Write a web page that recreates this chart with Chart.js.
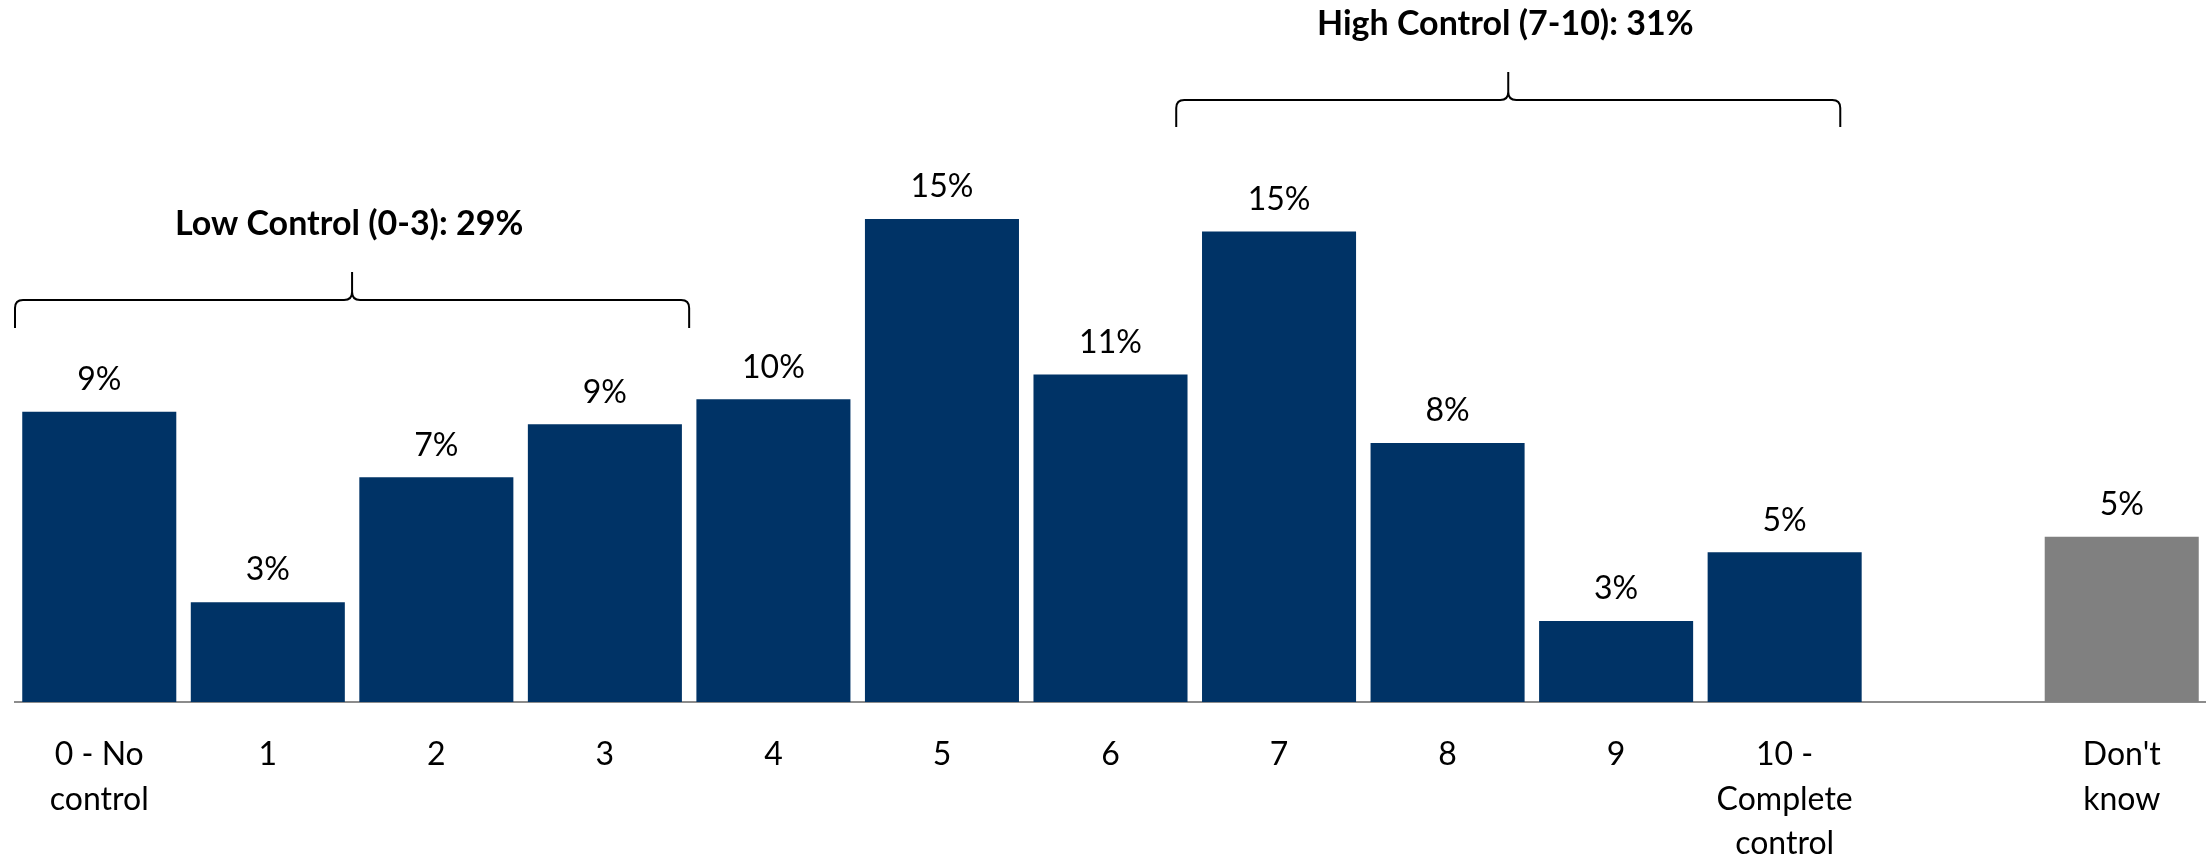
<!DOCTYPE html>
<html lang="en">
<head>
    <meta charset="UTF-8">
    <title>Control rating distribution</title>
    <script src="https://cdn.jsdelivr.net/npm/chart.js"></script>
    <style>
        body {
            margin: 0;
            background-color: #ffffff;
        }
        #chartBox {
            width: 2206px;
            height: 857px;
        }
    </style>
</head>
<body>
    <div id="chartBox">
        <canvas id="controlChart" width="2206" height="857"></canvas>
    </div>

    <script>
        // Data
        var categories = [
            ['0 - No', 'control'], '1', '2', '3', '4', '5', '6', '7', '8', '9',
            ['10 -', 'Complete', 'control'], '', ['Don\'t', 'know']
        ];
        var shares = [9.3, 3.2, 7.2, 8.9, 9.7, 15.48, 10.5, 15.08, 8.3, 2.6, 4.8, null, 5.3];
        var groupLabels = ['Low Control (0-3): 29%', 'High Control (7-10): 31%'];

        var navy = '#003366';
        var grey = '#808080';
        var barColors = shares.map(function (v, i) {
            return i === shares.length - 1 ? grey : navy;
        });

        var fontFamily = 'Lato, "Open Sans", sans-serif';

        // Percent labels above each bar
        var valueLabels = {
            id: 'valueLabels',
            afterDatasetsDraw: function (chart) {
                var ctx = chart.ctx;
                var meta = chart.getDatasetMeta(0);
                ctx.save();
                ctx.font = '32px ' + fontFamily;
                ctx.fillStyle = '#000000';
                ctx.textAlign = 'center';
                ctx.textBaseline = 'middle';
                meta.data.forEach(function (bar, i) {
                    if (shares[i] === null) return;
                    ctx.fillText(Math.round(shares[i]) + '%', bar.x, bar.y - 32);
                });
                ctx.restore();
            }
        };

        // Curly braces with the group totals
        var groupBraces = {
            id: 'groupBraces',
            afterDraw: function (chart, args, opts) {
                var ctx = chart.ctx;
                var xs = chart.scales.x;
                ctx.save();
                ctx.strokeStyle = '#000000';
                ctx.lineWidth = 2;
                opts.braces.forEach(function (b, i) {
                    var x0 = xs.getPixelForValue(b.from);
                    var x1 = xs.getPixelForValue(b.to);
                    var xm = xs.getPixelForValue(b.tip);
                    var r = 8;
                    ctx.beginPath();
                    ctx.moveTo(x0, b.endY);
                    ctx.lineTo(x0, b.lineY + r);
                    ctx.quadraticCurveTo(x0, b.lineY, x0 + r, b.lineY);
                    ctx.lineTo(xm - r, b.lineY);
                    ctx.quadraticCurveTo(xm, b.lineY, xm, b.lineY - r);
                    ctx.lineTo(xm, b.tipY);
                    ctx.moveTo(xm, b.lineY - r);
                    ctx.quadraticCurveTo(xm, b.lineY, xm + r, b.lineY);
                    ctx.lineTo(x1 - r, b.lineY);
                    ctx.quadraticCurveTo(x1, b.lineY, x1, b.lineY + r);
                    ctx.lineTo(x1, b.endY);
                    ctx.stroke();

                    ctx.font = 'bold 34px ' + fontFamily;
                    ctx.fillStyle = '#000000';
                    ctx.textAlign = 'center';
                    ctx.textBaseline = 'middle';
                    ctx.fillText(groupLabels[i], xm - 3, b.textY);
                });
                ctx.restore();
            }
        };

        var ctx = document.getElementById('controlChart').getContext('2d');
        var controlChart = new Chart(ctx, {
            type: 'bar',
            data: {
                labels: categories,
                datasets: [{
                    data: shares,
                    backgroundColor: barColors,
                    borderWidth: 0,
                    barPercentage: 0.914,
                    categoryPercentage: 1.0
                }]
            },
            options: {
                responsive: false,
                animation: false,
                devicePixelRatio: 1,
                layout: {
                    padding: { left: 15, right: 0, top: 0, bottom: 0 }
                },
                plugins: {
                    legend: { display: false },
                    tooltip: { enabled: false },
                    groupBraces: {
                        braces: [
                            { from: -0.5, to: 3.5, tip: 1.5, lineY: 300, endY: 328, tipY: 272, textY: 224 },
                            { from: 6.39, to: 10.33, tip: 8.36, lineY: 100, endY: 127, tipY: 72, textY: 24 }
                        ]
                    }
                },
                scales: {
                    x: {
                        grid: { display: false, drawTicks: false },
                        border: { display: true, color: '#8c8c8c', width: 2 },
                        ticks: {
                            color: '#000000',
                            padding: 30,
                            maxRotation: 0,
                            autoSkip: false,
                            font: { family: fontFamily, size: 32, lineHeight: 1.4 }
                        },
                        afterFit: function (scale) {
                            scale.height = 155;
                        }
                    },
                    y: {
                        display: false,
                        min: 0,
                        max: 22.5
                    }
                }
            },
            plugins: [valueLabels, groupBraces]
        });
    </script>
</body>
</html>
